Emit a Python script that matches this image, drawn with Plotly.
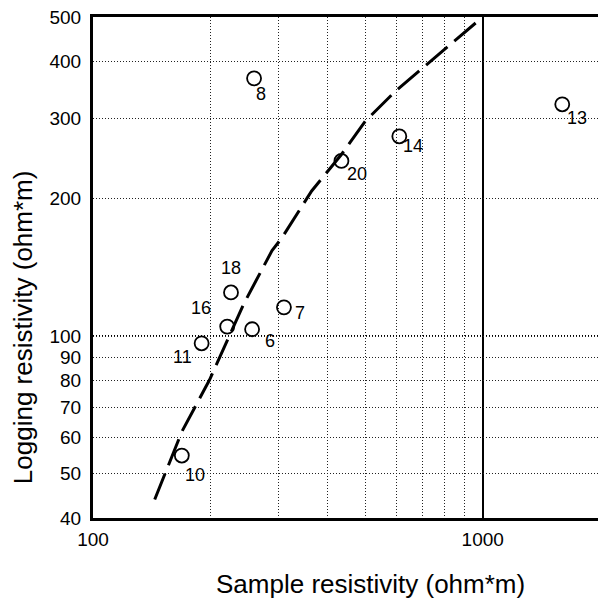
import math
import plotly.graph_objects as go

# sample points (sample resistivity vs logging resistivity), ohm*m
sample_ids = ["8", "20", "14", "13", "18", "16", "6", "7", "11", "10"]
sample_res = [259, 434, 611, 1600, 226, 221, 256, 309, 190, 169]
logging_res = [367, 242, 274, 322, 124.7, 105, 103.6, 115.7, 96.5, 54.8]

# label offsets (px) for each point number
label_dx = [7, 16, 14, 15, 0, -26, 18, 16, -19, 13]
label_dy = [-16, -13, -10, -14, 24, 19, -12, -6, -14, -19]

# dashed trend curve
curve_x = [144, 169, 199, 223, 244, 288, 305, 364, 434, 500, 597, 695, 800, 1000]
curve_y = [43.9, 61.8, 80.2, 99.5, 118, 154, 164, 208, 250, 296, 344, 384, 426, 500]

y_ticks = [40, 50, 60, 70, 80, 90, 100, 200, 300, 400, 500]
x_ticks = [100, 1000]
x_minor = [200, 300, 400, 500, 600, 700, 800, 900]

FONT = "Liberation Sans, Arial, sans-serif"

fig = go.Figure()

fig.add_trace(go.Scatter(
    x=curve_x, y=curve_y, mode="lines",
    line=dict(color="black", width=3, dash="28px,9px"),
    hoverinfo="skip", showlegend=False,
))

fig.add_trace(go.Scatter(
    x=sample_res, y=logging_res, mode="markers",
    marker=dict(symbol="circle-open", size=14, color="black", line=dict(width=1.8)),
    showlegend=False,
))

# annotations on log axes take log10 positions
for sid, sx, sy, dx, dy in zip(sample_ids, sample_res, logging_res, label_dx, label_dy):
    fig.add_annotation(
        x=math.log10(sx), y=math.log10(sy), xref="x", yref="y", text=sid,
        showarrow=False, xshift=dx, yshift=dy,
        font=dict(size=18, color="black", family=FONT),
    )

dot = "1px,2px"

fig.update_xaxes(
    type="log", range=[2, 3.301], automargin=False,
    tickvals=x_ticks, ticktext=[str(v) for v in x_ticks],
    showgrid=True, gridcolor="black", gridwidth=2,
    minor=dict(tickvals=x_minor, showgrid=True, gridcolor="#222",
               gridwidth=1.2, griddash=dot, ticks=""),
    showline=True, linecolor="black", linewidth=3, mirror=True,
    ticks="", zeroline=False, ticklabelstandoff=2, ticklabeloverflow="allow",
    tickfont=dict(size=19, color="black", family=FONT),
)
fig.update_yaxes(
    type="log", range=[1.60206, 2.69897], automargin=False,
    tickvals=y_ticks, ticktext=[str(v) for v in y_ticks],
    showgrid=True, gridcolor="#222", gridwidth=1.2, griddash=dot,
    minor=dict(tickvals=[100], showgrid=True, gridcolor="black",
               gridwidth=1.5, ticks=""),
    showline=True, linecolor="black", linewidth=3, mirror=True,
    ticks="", zeroline=False, ticklabelstandoff=5, ticklabeloverflow="allow",
    tickfont=dict(size=19, color="black", family=FONT),
)

fig.add_annotation(
    text="Sample resistivity (ohm*m)", xref="paper", yref="paper",
    x=0.548, y=-0.131, showarrow=False, xanchor="center", yanchor="middle",
    font=dict(size=26, color="black", family=FONT),
)
fig.add_annotation(
    text="Logging resistivity (ohm*m)", xref="paper", yref="paper",
    x=-0.138, y=0.381, showarrow=False, textangle=-90,
    xanchor="center", yanchor="middle",
    font=dict(size=26, color="black", family=FONT),
)

# page body adds an 8px offset, so margins are set to land the plot box
# where the reference has it
fig.update_layout(
    width=606, height=605,
    margin=dict(l=85, r=14, t=9, b=95),
    paper_bgcolor="white", plot_bgcolor="white",
    showlegend=False,
)

fig.write_html("out.html")
